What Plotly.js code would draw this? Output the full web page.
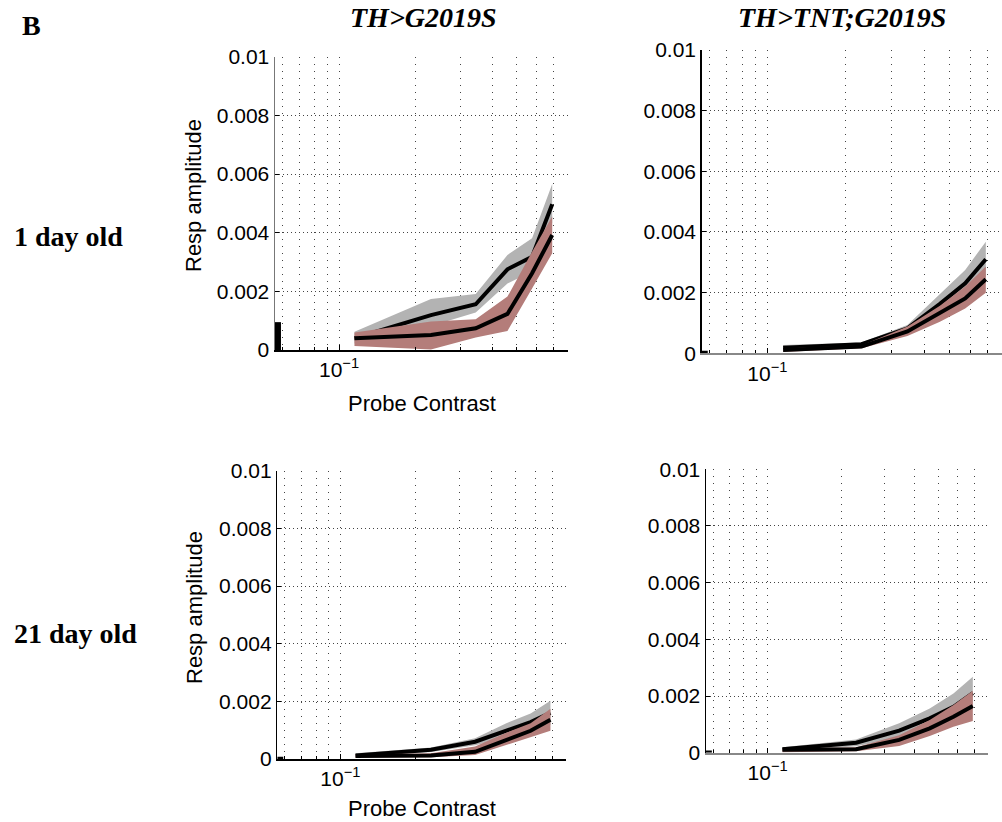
<!DOCTYPE html>
<html>
<head>
<meta charset="utf-8">
<script src="https://cdn.plot.ly/plotly-3.0.1.min.js"></script>
<style>html,body{margin:0;padding:0;background:#fff;}#chart{width:1002px;height:822px;}</style>
</head>
<body>
<div id="chart"></div>
<script>
// ---------------- data ----------------
const contrast = [0.115, 0.23, 0.345, 0.46, 0.575, 0.69];

// Panel 1: 1 day old, TH>G2019S
const g1_mean = [0.00040, 0.00119, 0.00156, 0.00275, 0.00318, 0.00497];
const g1_hi   = [0.00062, 0.00174, 0.00191, 0.00324, 0.00381, 0.00566];
const g1_lo   = [0.00022, 0.00082, 0.00128, 0.00227, 0.00268, 0.00434];
const r1_mean = [0.00040, 0.00051, 0.00074, 0.00123, 0.00262, 0.00392];
const r1_hi   = [0.00060, 0.00097, 0.00105, 0.00182, 0.00335, 0.00455];
const r1_lo   = [0.00014, 0.00002, 0.00043, 0.00065, 0.00210, 0.00330];

// Panel 2: 1 day old, TH>TNT;G2019S
const g2_mean = [0.00018, 0.00030, 0.00082, 0.00163, 0.00231, 0.00310];
const g2_hi   = [0.00027, 0.00036, 0.00093, 0.00196, 0.00275, 0.00368];
const g2_lo   = [0.00010, 0.00024, 0.00071, 0.00130, 0.00187, 0.00252];
const r2_mean = [0.00011, 0.00022, 0.00072, 0.00132, 0.00181, 0.00244];
const r2_hi   = [0.00016, 0.00026, 0.00088, 0.00157, 0.00220, 0.00286];
const r2_lo   = [0.00004, 0.00017, 0.00057, 0.00104, 0.00148, 0.00200];

// Panel 3: 21 day old, TH>G2019S
const g3_mean = [0.00012, 0.00032, 0.00060, 0.00098, 0.00128, 0.00160];
const g3_hi   = [0.00020, 0.00040, 0.00072, 0.00124, 0.00158, 0.00202];
const g3_lo   = [0.00005, 0.00024, 0.00048, 0.00072, 0.00098, 0.00118];
const r3_mean = [0.00010, 0.00012, 0.00025, 0.00066, 0.00098, 0.00136];
const r3_hi   = [0.00015, 0.00020, 0.00043, 0.00091, 0.00124, 0.00174];
const r3_lo   = [0.00005, 0.00006, 0.00014, 0.00049, 0.00074, 0.00098];

// Panel 4: 21 day old, TH>TNT;G2019S
const g4_mean = [0.00012, 0.00035, 0.00078, 0.00121, 0.00162, 0.00210];
const g4_hi   = [0.00019, 0.00047, 0.00104, 0.00156, 0.00209, 0.00268];
const g4_lo   = [0.00005, 0.00023, 0.00052, 0.00086, 0.00115, 0.00152];
const r4_mean = [0.00010, 0.00012, 0.00045, 0.00086, 0.00127, 0.00165];
const r4_hi   = [0.00014, 0.00019, 0.00062, 0.00115, 0.00168, 0.00219];
const r4_lo   = [0.00002, 0.00005, 0.00024, 0.00059, 0.00092, 0.00112];

// small black marks at the axis origin
const bar_x  = [0.0575, 0.0575];
const bar1_y = [0, 0.00095];
const bar_small_y = [0, 0.00008];

// tick labels
const xTickVals = [0.1];
const xTickText = ['10<sup>−1</sup>'];
const xMinorVals = [0.06, 0.07, 0.08, 0.09, 0.2, 0.3, 0.4, 0.5, 0.6, 0.7, 0.8];
const yTickVals = [0, 0.002, 0.004, 0.006, 0.008, 0.01];
const yTickText = ['0', '0.002', '0.004', '0.006', '0.008', '0.01'];

const colTitles = ['TH>G2019S', 'TH>TNT;G2019S'];
const rowTitles = ['1 day old', '21 day old'];
const panelLetter = 'B';
const xLabel = 'Probe Contrast';
const yLabel = 'Resp amplitude';

// ---------------- styling ----------------
const GREY = 'rgb(179,179,179)';
const RED = 'rgb(180,125,122)';
const W = 1002, H = 822;
const fx = p => p / W;
const fy = p => 1 - p / H;

const panels = [
  {g:[g1_lo,g1_hi,g1_mean], r:[r1_lo,r1_hi,r1_mean], bar:bar1_y, x:[275,568], y:[56.7,350], ylc:'#777', xlc:'#000', xlw:1.5},
  {g:[g2_lo,g2_hi,g2_mean], r:[r2_lo,r2_hi,r2_mean], bar:bar_small_y, x:[701.7,1002], y:[50,353.3], ylc:'#000', xlc:'#888', xlw:2},
  {g:[g3_lo,g3_hi,g3_mean], r:[r3_lo,r3_hi,r3_mean], bar:bar_small_y, x:[277.3,566], y:[470.7,759], ylc:'#000', xlc:'#000', xlw:1.5},
  {g:[g4_lo,g4_hi,g4_mean], r:[r4_lo,r4_hi,r4_mean], bar:bar_small_y, x:[706,988], y:[469.3,752.7], ylc:'#000', xlc:'#888', xlw:2}
];

const traces = [];
const layout = {
  width: W, height: H,
  margin: {l:0, r:0, t:0, b:0},
  paper_bgcolor: '#fff', plot_bgcolor: 'rgba(0,0,0,0)',
  showlegend: false,
  font: {family: 'Liberation Sans, Arial, sans-serif', color: '#000'},
  annotations: []
};

panels.forEach((p, i) => {
  const n = i === 0 ? '' : String(i + 1);
  const xa = 'x' + n, ya = 'y' + n;
  const base = {xaxis: xa, yaxis: ya, hoverinfo: 'skip', showlegend: false};
  // grey band + its mean
  traces.push(Object.assign({x: contrast, y: p.g[0], mode: 'lines', line: {width: 0, color: GREY}}, base));
  traces.push(Object.assign({x: contrast, y: p.g[1], mode: 'lines', line: {width: 0, color: GREY}, fill: 'tonexty', fillcolor: GREY}, base));
  traces.push(Object.assign({x: contrast, y: p.g[2], mode: 'lines', line: {width: 4, color: '#000'}}, base));
  // red band + its mean
  traces.push(Object.assign({x: contrast, y: p.r[0], mode: 'lines', line: {width: 0, color: RED}}, base));
  traces.push(Object.assign({x: contrast, y: p.r[1], mode: 'lines', line: {width: 0, color: RED}, fill: 'tonexty', fillcolor: RED}, base));
  traces.push(Object.assign({x: contrast, y: p.r[2], mode: 'lines', line: {width: 4, color: '#000'}}, base));
  // origin mark
  traces.push(Object.assign({x: bar_x, y: p.bar, mode: 'lines', line: {width: 6, color: '#000'}}, base));

  layout['xaxis' + n] = {
    type: 'log', domain: [fx(p.x[0]), fx(p.x[1])], anchor: ya,
    range: [-1.252, -0.099],
    tickmode: 'array', tickvals: xTickVals, ticktext: xTickText,
    showgrid: true, gridcolor: '#444', gridwidth: 1, griddash: '1px,6px',
    minor: {tickmode: 'array', tickvals: xMinorVals, showgrid: true, gridcolor: '#444', gridwidth: 1,
            griddash: '1px,6px', ticks: 'inside', ticklen: 3, tickcolor: '#000'},
    showline: true, linecolor: p.xlc, linewidth: p.xlw,
    ticks: 'inside', ticklen: 5, tickcolor: '#000',
    tickfont: {family: 'Liberation Sans, Arial, sans-serif', size: 21, color: '#000'},
    zeroline: false, fixedrange: true
  };
  layout['yaxis' + n] = {
    domain: [fy(p.y[1]), fy(p.y[0])], anchor: xa,
    range: [0, 0.01],
    tickmode: 'array', tickvals: yTickVals, ticktext: yTickText,
    showgrid: true, gridcolor: '#444', gridwidth: 1, griddash: '1px,3px',
    showline: true, linecolor: p.ylc, linewidth: 1.5,
    ticks: 'inside', ticklen: 4, tickcolor: '#000',
    tickfont: {family: 'Liberation Sans, Arial, sans-serif', size: 21, color: '#000'},
    zeroline: false, fixedrange: true
  };
});

function ann(text, xpx, ypx, font, extra) {
  layout.annotations.push(Object.assign({
    text: text, xref: 'paper', yref: 'paper', x: fx(xpx), y: fy(ypx),
    xanchor: 'center', yanchor: 'middle', showarrow: false, font: font
  }, extra || {}));
}
const serifBold = {family: 'Liberation Serif, Times New Roman, serif', size: 28, color: '#000', weight: 'bold'};
ann('<b>' + panelLetter + '</b>', 32, 26, serifBold);
ann('<b><i>' + colTitles[0].replace('>', '&gt;') + '</i></b>', 423, 18, serifBold);
ann('<b><i>' + colTitles[1].replace('>', '&gt;') + '</i></b>', 842, 18, serifBold);
ann('<b>' + rowTitles[0] + '</b>', 68, 237, serifBold);
ann('<b>' + rowTitles[1] + '</b>', 75, 633, serifBold);
const sans = {family: 'Liberation Sans, Arial, sans-serif', size: 22, color: '#000'};
ann(xLabel, 422, 403, sans);
ann(xLabel, 422, 808, sans);
ann(yLabel, 194, 196, sans, {textangle: -90});
ann(yLabel, 194, 608, sans, {textangle: -90});

Plotly.newPlot('chart', traces, layout, {staticPlot: true, displayModeBar: false});
</script>
</body>
</html>
